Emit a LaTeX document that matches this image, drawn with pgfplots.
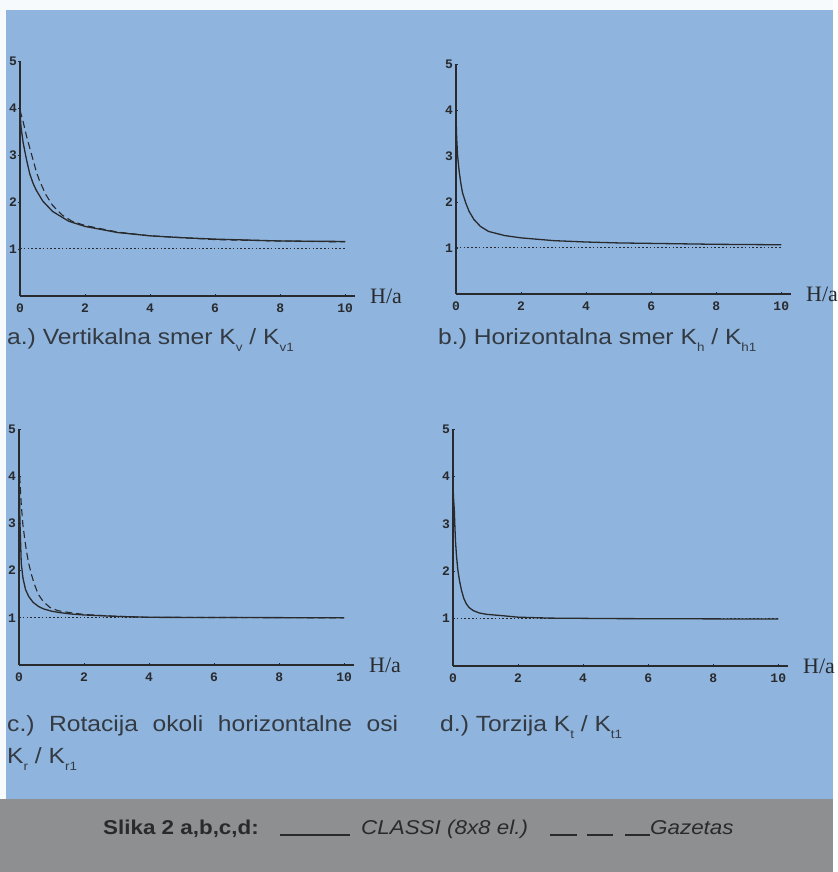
\documentclass[border=0pt]{standalone}
\usepackage{fontspec}
\setmainfont{Liberation Sans}
\newfontfamily\tickfont{Liberation Mono}
\newfontfamily\serfont{Liberation Serif}
\newfontfamily\wfont[FakeStretch=1.12]{Liberation Sans}
\newfontfamily\capfont[FakeStretch=1.12]{Liberation Sans}
\usepackage{xcolor}
\usepackage{pgfplots}
\pgfplotsset{compat=1.18}
\frenchspacing

\definecolor{bgblue}{RGB}{143,180,221}
\definecolor{bargray}{RGB}{141,143,145}
\definecolor{ink}{RGB}{40,42,45}
\definecolor{txt}{RGB}{52,58,66}

\newcommand\sub[1]{\raisebox{-0.55ex}{\fontsize{12}{12}\selectfont #1}}

\pgfplotsset{
  panel/.style={
    scale only axis, width=335pt, height=235pt,
    xmin=0, xmax=10.3, ymin=0, ymax=5,
    axis x line=bottom, axis y line=left,
    axis line style={-, line width=1.1pt, ink},
    xtick={0,2,4,6,8,10}, ytick={1,2,3,4,5},
    tick style={ink, line width=0.6pt}, major tick length=3pt,
    /pgf/number format/assume math mode=true,
    ticklabel style={font=\tickfont\bfseries\fontsize{13}{13}\selectfont, text=ink},
    xticklabel style={yshift=-3pt},
    yticklabel style={xshift=2pt},
    xlabel={H/a},
    xlabel style={at={(rel axis cs:1,0)}, anchor=west, xshift=15pt, yshift=0pt,
      font=\serfont\fontsize{22}{22}\selectfont, text=ink, inner sep=0pt},
    clip=false,
  },
  solid curve/.style={ink, line width=1.3pt},
  dashed curve/.style={ink, line width=1.1pt, dash pattern=on 7pt off 4pt},
  ref line/.style={ink, line width=1pt, dash pattern=on 1.6pt off 2.2pt},
}

\begin{document}
\begin{tikzpicture}
\fill[bgblue] (0pt,0pt) rectangle (833pt,872pt);
\fill[white!93!bgblue] (0pt,0pt) rectangle (6pt,872pt);
\fill[white!93!bgblue] (0pt,862pt) rectangle (833pt,872pt);
\fill[bargray] (0pt,0pt) rectangle (833pt,73pt);

% a
\begin{axis}[panel, anchor=south west, at={(20pt,576pt)}]
\addplot[ref line] coordinates {(0,1)(10,1)};
\addplot[dashed curve] coordinates {(0,3.95)(0.1,3.7)(0.2,3.4)(0.3,3.15)(0.4,2.9)(0.5,2.65)(0.6,2.45)(0.8,2.15)(1.0,1.93)(1.3,1.72)(1.6,1.59)(2,1.5)(3,1.36)(4,1.28)(6,1.2)(8,1.17)(10,1.15)};
\addplot[solid curve] coordinates {(0,3.95)(0.03,3.6)(0.1,3.25)(0.2,2.9)(0.3,2.6)(0.4,2.4)(0.5,2.25)(0.7,2.02)(1.0,1.8)(1.5,1.59)(2,1.48)(3,1.35)(4,1.28)(5,1.24)(6,1.21)(8,1.17)(10,1.16)};
\end{axis}

% b
\begin{axis}[panel, height=230pt, anchor=south west, at={(456pt,578pt)}]
\addplot[ref line] coordinates {(0,1)(10,1)};
\addplot[solid curve] coordinates {(0,3.9)(0.02,3.4)(0.05,3.0)(0.1,2.65)(0.15,2.4)(0.2,2.2)(0.3,1.98)(0.4,1.8)(0.55,1.62)(0.75,1.47)(1.0,1.36)(1.5,1.27)(2,1.22)(3,1.16)(4,1.13)(5,1.11)(6,1.1)(8,1.08)(10,1.07)};
\end{axis}

% c
\begin{axis}[panel, height=236pt, anchor=south west, at={(19pt,207pt)}]
\addplot[ref line] coordinates {(0,1)(10,1)};
\addplot[dashed curve] coordinates {(0.02,4.0)(0.07,3.4)(0.12,2.97)(0.18,2.65)(0.23,2.41)(0.3,2.15)(0.38,1.92)(0.48,1.7)(0.59,1.5)(0.75,1.34)(0.95,1.22)(1.2,1.15)(1.46,1.12)(2,1.07)(3,1.03)(4,1.01)(10,1.0)};
\addplot[solid curve] coordinates {(0,4.2)(0.03,3.0)(0.07,2.15)(0.12,1.85)(0.2,1.6)(0.3,1.45)(0.43,1.33)(0.6,1.24)(0.75,1.19)(1.0,1.14)(1.25,1.11)(1.6,1.08)(2,1.06)(3,1.03)(4,1.01)(10,1.0)};
\end{axis}

% d
\begin{axis}[panel, height=237pt, anchor=south west, at={(453pt,206pt)}]
\addplot[ref line] coordinates {(0,1)(10,1)};
\addplot[solid curve] coordinates {(0,3.8)(0.02,3.5)(0.04,3.3)(0.06,2.9)(0.08,2.6)(0.11,2.3)(0.15,2.02)(0.2,1.8)(0.26,1.6)(0.33,1.43)(0.41,1.31)(0.5,1.23)(0.62,1.17)(0.8,1.12)(1.03,1.09)(1.54,1.06)(2,1.03)(3,1.01)(5,1.0)(10,0.99)};
\end{axis}

\begin{scope}[every node/.style={inner sep=0pt, text=txt, font=\wfont\fontsize{22}{24}\selectfont}]
\node[anchor=base west] at (7pt,527pt) {a.) Vertikalna smer K\sub{v} / K\sub{v1}};
\node[anchor=base west] at (438pt,527pt) {b.) Horizontalna smer K\sub{h} / K\sub{h1}};
\node[anchor=base west] at (7pt,140pt) {\makebox[391pt][s]{c.) Rotacija okoli horizontalne osi}};
\node[anchor=base west] at (7pt,108pt) {K\sub{r} / K\sub{r1}};
\node[anchor=base west] at (440pt,140pt) {d.) Torzija K\sub{t} / K\sub{t1}};
\end{scope}

\begin{scope}[every node/.style={inner sep=0pt, text=ink, anchor=base west, font=\capfont\fontsize{20}{22}\selectfont}]
\node at (103pt,37pt) {\bfseries Slika 2 a,b,c,d:};
\node at (361pt,37pt) {\itshape CLASSI (8x8 el.)};
\node at (650pt,37pt) {\itshape Gazetas};
\end{scope}
\fill[ink] (280pt,36pt) rectangle (350pt,38pt);
\fill[ink] (550pt,36pt) rectangle (577pt,38pt);
\fill[ink] (587pt,36pt) rectangle (613pt,38pt);
\fill[ink] (625pt,36pt) rectangle (650pt,38pt);
\end{tikzpicture}
\end{document}
